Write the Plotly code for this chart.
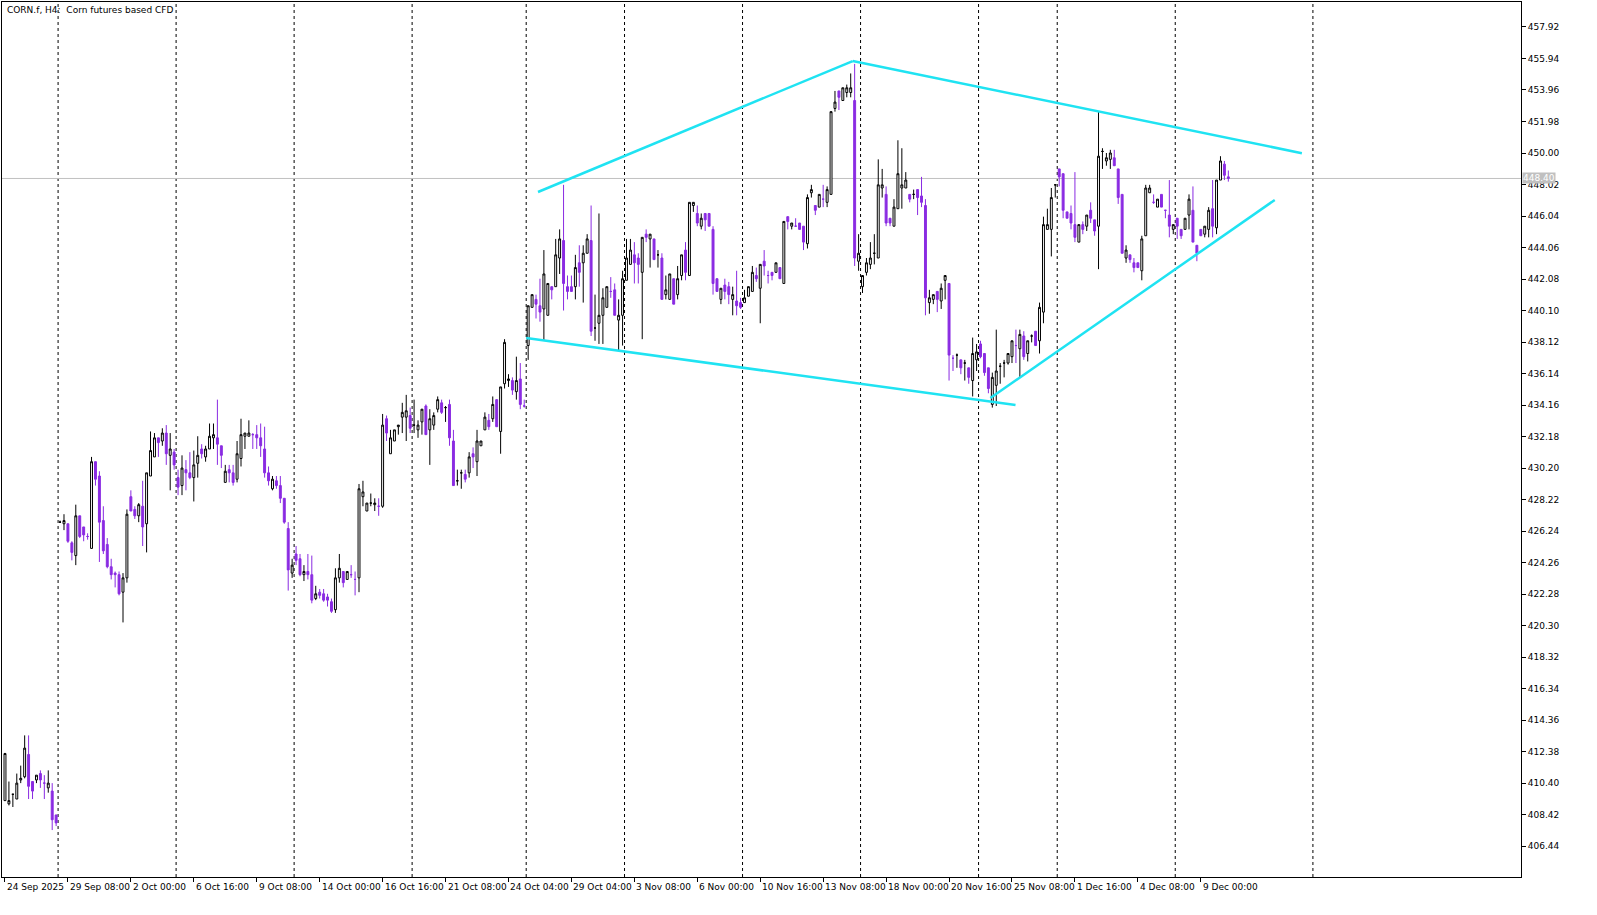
import plotly.graph_objects as go

# H4 candles, CORN.f, 24 Sep - 10 Dec 2025
opens = [
    409.3, 409.1, 409.7, 409.4, 410.6, 410.8, 412.2, 410.5, 410.6, 411.0, 410.4, 410.1, 409.9, 408.4,
    426.8, 426.7, 426.7, 425.5, 424.7, 427.2, 426.5, 425.9, 425.15, 430.6, 429.7, 426.9, 425.4, 424.0,
    423.6, 423.5, 422.4, 423.3, 428.4, 427.6, 427.2, 427.8, 426.7, 429.7, 430.9, 432.1, 431.9, 432.4,
    431.0, 431.2, 429.6, 429.1, 430.1, 429.9, 429.6, 430.5, 431.4, 430.9, 431.4, 432.1, 432.1, 431.6,
    429.3, 430.1, 429.9, 429.5, 430.8, 432.2, 432.2, 432.3, 432.3, 432.1, 431.4, 429.9, 428.9, 429.4,
    429.1, 428.3, 426.4, 423.6, 424.8, 424.5, 423.5, 423.7, 423.5, 422.0, 422.4, 422.3, 422.1, 421.8,
    421.3, 423.3, 423.7, 423.2, 423.5, 423.2, 423.3, 428.4, 427.5, 428.0, 427.9, 427.8, 427.8, 433.3,
    431.1, 431.9, 432.8, 433.4, 433.4, 433.5, 432.9, 432.6, 433.1, 434.1, 432.6, 432.9, 433.9, 434.3,
    434.0, 434.2, 431.9, 429.4, 429.9, 429.8, 429.9, 431.1, 430.6, 431.6, 432.6, 433.2, 433.3, 434.5,
    432.5, 435.5, 435.7, 435.7, 435.0, 435.8, 434.1, 437.9, 440.3, 440.8, 440.4, 440.2, 439.8, 441.6,
    441.6, 443.4, 444.5, 441.6, 441.6, 441.6, 443.1, 443.1, 443.7, 444.5, 439.0, 439.3, 439.8, 440.3,
    441.3, 441.4, 439.5, 439.8, 442.0, 443.0, 443.6, 443.4, 442.5, 444.9, 444.6, 444.6, 443.6, 443.4,
    441.1, 440.8, 442.1, 441.1, 442.3, 443.9, 442.3, 446.7, 446.2, 445.4, 446.2, 446.2, 445.2, 442.1,
    440.8, 441.7, 441.6, 440.8, 440.7, 440.6, 440.6, 441.0, 441.3, 442.3, 441.5, 443.2, 442.3, 442.5,
    442.5, 442.8, 441.8, 446.0, 445.4, 445.4, 445.6, 445.4, 444.3, 447.5, 446.7, 446.6, 447.1, 446.9,
    447.4, 452.8, 453.9, 453.3, 453.8, 453.8, 453.3, 443.2, 441.6, 442.5, 443.0, 443.7, 443.4, 447.8,
    447.4, 445.9, 445.4, 446.5, 447.8, 447.8, 447.4, 447.4, 447.7, 447.3, 446.7, 440.6, 440.8, 441.3,
    440.7, 442.0, 441.8, 437.1, 437.3, 437.0, 436.8, 436.5, 435.7, 437.0, 438.0, 437.4, 436.5, 434.2,
    435.4, 436.6, 436.8, 436.8, 437.2, 437.9, 437.7, 438.5, 437.4, 438.5, 438.8, 438.2, 440.0, 445.2,
    445.2, 448.0, 449.0, 448.7, 446.3, 446.2, 445.5, 444.4, 445.5, 445.4, 446.4, 445.8, 445.4, 450.1,
    449.5, 449.6, 449.7, 449.0, 447.4, 443.4, 443.6, 443.1, 443.1, 442.6, 444.8, 447.5, 446.9, 446.6,
    447.4, 446.4, 446.1, 445.2, 445.9, 445.2, 445.2, 446.1, 446.4, 444.2, 445.2, 444.9, 445.2, 446.5,
    445.3, 448.3, 449.3, 448.5,
]
highs = [
    412.3, 410.5, 409.7, 411.0, 411.5, 413.4, 413.4, 410.5, 410.9, 411.2, 410.9, 411.2, 410.4, 408.4,
    426.9, 427.3, 426.7, 425.6, 427.9, 427.2, 426.5, 426.1, 430.9, 430.6, 430.0, 427.8, 425.8, 424.5,
    423.7, 423.7, 423.6, 427.6, 428.8, 427.8, 428.0, 429.4, 429.9, 432.5, 432.4, 432.1, 432.7, 432.9,
    432.4, 431.4, 430.1, 431.0, 430.7, 431.2, 431.3, 432.2, 431.7, 431.6, 433.0, 433.0, 434.5, 431.6,
    430.4, 430.4, 430.4, 431.9, 433.3, 432.4, 433.2, 432.4, 432.9, 433.0, 432.8, 430.3, 429.7, 429.7,
    429.7, 428.3, 426.8, 424.5, 425.3, 424.8, 424.1, 424.8, 424.7, 422.8, 422.6, 422.6, 422.3, 422.0,
    423.9, 424.8, 423.7, 423.7, 424.1, 423.7, 429.2, 429.4, 428.0, 428.6, 428.3, 428.3, 433.6, 433.5,
    432.6, 432.6, 432.9, 434.3, 434.8, 434.0, 434.5, 433.2, 433.9, 434.2, 433.9, 433.7, 434.7, 434.5,
    434.1, 434.5, 432.6, 430.1, 430.1, 430.1, 431.2, 431.5, 432.6, 431.9, 433.7, 433.6, 434.7, 434.5,
    435.3, 438.3, 436.1, 435.9, 437.2, 436.8, 434.5, 440.4, 441.1, 441.1, 442.1, 443.9, 441.8, 441.6,
    444.6, 445.2, 448.0, 442.3, 442.3, 443.6, 444.2, 444.2, 444.9, 446.7, 441.1, 446.2, 441.5, 441.6,
    442.2, 441.8, 440.8, 442.6, 444.6, 444.6, 444.4, 443.7, 444.7, 445.2, 444.9, 444.6, 443.9, 443.7,
    442.3, 442.4, 442.1, 442.9, 443.6, 444.4, 446.9, 446.9, 446.7, 446.2, 446.2, 446.2, 445.4, 442.1,
    441.5, 442.1, 441.9, 441.6, 442.6, 440.9, 441.4, 441.6, 442.9, 442.8, 443.0, 443.9, 442.6, 442.5,
    443.1, 442.8, 445.7, 446.0, 445.6, 445.9, 445.6, 445.4, 447.4, 448.0, 446.7, 447.4, 448.0, 447.9,
    452.6, 453.9, 453.9, 454.1, 454.3, 455.0, 455.6, 444.9, 442.3, 443.4, 444.4, 444.9, 449.6, 449.0,
    447.9, 445.9, 447.1, 450.8, 450.3, 448.8, 447.4, 447.7, 447.7, 448.5, 447.1, 441.4, 441.1, 441.3,
    441.8, 442.3, 441.8, 437.3, 437.4, 437.0, 437.0, 436.5, 438.4, 438.0, 438.2, 437.4, 436.5, 436.2,
    438.9, 436.8, 437.0, 437.4, 438.2, 438.9, 438.9, 438.8, 438.2, 438.6, 438.8, 440.6, 446.0, 446.5,
    447.8, 448.0, 449.0, 448.7, 446.3, 446.7, 448.8, 445.5, 445.7, 446.1, 446.9, 445.8, 452.6, 450.3,
    450.0, 450.2, 450.2, 449.0, 447.4, 444.2, 443.6, 443.4, 443.1, 444.8, 448.0, 448.0, 447.4, 447.1,
    447.4, 446.4, 448.3, 445.5, 445.9, 445.2, 445.9, 447.4, 447.9, 444.2, 445.2, 445.4, 446.6, 448.3,
    448.3, 449.8, 449.5, 448.9,
]
lows = [
    409.3, 409.0, 408.9, 409.4, 410.4, 410.7, 409.4, 409.4, 410.4, 410.1, 409.4, 409.8, 407.45, 407.7,
    426.8, 426.3, 425.5, 424.4, 424.1, 425.8, 425.6, 425.7, 425.15, 429.1, 424.3, 424.8, 423.9, 423.2,
    422.7, 422.2, 420.5, 423.0, 427.5, 427.0, 426.8, 425.3, 424.9, 429.7, 430.9, 430.9, 431.6, 430.4,
    428.8, 430.1, 428.5, 428.5, 428.8, 429.5, 428.1, 429.6, 430.8, 430.6, 431.4, 431.4, 430.4, 430.2,
    429.3, 429.3, 429.1, 429.3, 430.3, 431.4, 432.2, 431.4, 431.4, 430.9, 429.6, 429.1, 428.8, 428.9,
    428.0, 426.7, 422.5, 423.3, 424.1, 423.4, 423.1, 423.2, 421.7, 421.9, 422.0, 421.8, 421.5, 421.1,
    421.1, 423.0, 422.7, 423.2, 423.3, 422.2, 422.4, 427.8, 427.5, 427.8, 427.5, 427.2, 427.7, 431.9,
    431.1, 431.9, 432.3, 432.4, 431.9, 432.4, 432.4, 432.1, 432.3, 432.3, 430.4, 432.6, 433.7, 433.6,
    433.1, 431.6, 429.1, 429.1, 428.9, 429.3, 429.6, 430.2, 429.7, 431.6, 432.6, 432.6, 433.1, 432.8,
    431.1, 435.2, 435.3, 434.8, 434.5, 433.9, 434.0, 437.0, 440.3, 439.6, 439.4, 438.2, 439.8, 440.8,
    441.6, 442.4, 440.1, 440.8, 441.3, 440.8, 441.6, 440.6, 443.7, 438.5, 438.2, 438.0, 438.0, 440.3,
    440.9, 439.8, 437.6, 437.9, 442.0, 443.0, 441.8, 441.8, 438.3, 444.4, 442.8, 443.3, 442.8, 440.8,
    440.8, 440.8, 440.5, 440.8, 442.0, 442.0, 442.3, 446.3, 445.4, 445.2, 445.1, 445.4, 441.1, 441.3,
    440.5, 440.8, 440.5, 439.8, 439.8, 440.2, 440.6, 441.0, 441.3, 441.9, 439.3, 442.3, 441.8, 442.0,
    442.5, 442.1, 441.8, 445.2, 445.2, 445.4, 445.2, 443.9, 444.0, 447.2, 446.1, 446.6, 446.6, 446.6,
    447.4, 452.6, 452.7, 453.3, 453.5, 453.5, 442.9, 442.6, 441.2, 442.3, 442.7, 443.0, 443.4, 447.2,
    445.4, 445.4, 445.4, 446.5, 446.5, 447.8, 446.9, 447.1, 446.1, 446.6, 439.8, 439.9, 440.5, 440.0,
    440.2, 440.8, 435.7, 436.3, 436.5, 436.1, 435.7, 435.5, 434.7, 436.3, 437.1, 436.0, 434.9, 434.0,
    434.1, 435.5, 435.9, 436.7, 436.8, 436.8, 435.9, 437.0, 436.9, 438.1, 437.9, 437.4, 439.3, 445.2,
    443.5, 447.2, 447.9, 445.9, 445.9, 445.2, 444.4, 444.4, 444.9, 445.1, 445.6, 444.8, 442.7, 449.0,
    449.2, 449.0, 449.2, 446.8, 443.7, 443.1, 443.1, 442.5, 442.8, 442.0, 444.8, 447.5, 446.8, 446.6,
    446.6, 445.9, 444.7, 444.9, 444.6, 444.6, 445.2, 445.2, 444.4, 443.2, 444.8, 444.7, 444.7, 444.7,
    444.9, 448.3, 448.3, 448.2,
]
closes = [
    412.26, 409.3, 409.7, 410.4, 410.7, 412.6, 410.2, 409.9, 410.9, 410.6, 410.4, 410.4, 408.1, 407.9,
    426.8, 426.9, 425.6, 424.9, 427.2, 425.9, 426.0, 425.9, 430.6, 429.5, 426.8, 425.0, 424.0, 423.5,
    423.5, 422.3, 423.3, 427.3, 427.5, 427.2, 427.9, 426.5, 429.9, 431.3, 432.1, 431.8, 432.4, 431.1,
    431.4, 430.4, 429.0, 430.2, 429.9, 429.6, 430.4, 431.0, 431.1, 431.4, 432.2, 432.3, 431.7, 431.0,
    430.0, 429.9, 429.3, 431.1, 432.3, 432.4, 432.4, 432.3, 432.1, 431.6, 429.9, 429.4, 429.5, 429.1,
    428.3, 426.8, 423.8, 424.1, 424.4, 423.5, 423.7, 423.5, 421.9, 422.3, 422.2, 421.9, 421.9, 421.2,
    423.3, 423.9, 423.0, 423.7, 423.5, 423.2, 428.9, 428.7, 428.0, 428.0, 428.0, 427.8, 432.9, 432.4,
    432.1, 432.6, 432.9, 433.7, 433.8, 432.7, 432.9, 432.9, 433.9, 432.3, 433.3, 433.5, 434.5, 433.7,
    434.0, 432.1, 429.1, 429.4, 429.9, 429.5, 430.9, 430.9, 431.9, 431.9, 433.4, 432.8, 434.2, 432.8,
    435.3, 438.1, 435.8, 435.1, 435.7, 434.2, 434.1, 440.4, 441.1, 440.5, 440.0, 442.4, 441.8, 441.4,
    443.6, 444.6, 441.8, 441.3, 441.3, 442.8, 442.5, 443.7, 444.6, 438.8, 439.0, 439.8, 440.9, 441.6,
    441.3, 439.8, 439.8, 442.1, 443.4, 443.9, 443.1, 443.0, 444.7, 444.7, 444.9, 443.3, 443.6, 440.8,
    441.4, 442.4, 440.5, 442.1, 443.6, 442.5, 446.9, 446.9, 445.6, 445.9, 445.8, 445.4, 441.8, 441.3,
    441.5, 441.3, 441.1, 441.1, 440.4, 440.3, 440.9, 441.6, 442.5, 442.1, 443.0, 442.9, 442.3, 442.3,
    443.1, 442.1, 445.7, 445.7, 445.6, 445.4, 445.2, 444.4, 447.2, 447.7, 446.4, 447.4, 447.1, 447.7,
    452.6, 453.2, 453.5, 454.1, 454.1, 454.1, 443.4, 443.7, 442.3, 443.1, 443.4, 443.7, 448.0, 448.0,
    445.6, 445.6, 446.6, 448.7, 448.0, 448.3, 447.1, 447.4, 447.2, 446.9, 440.9, 440.9, 441.1, 440.8,
    441.5, 442.3, 437.3, 437.1, 437.3, 436.5, 436.8, 435.9, 437.4, 437.5, 437.2, 436.2, 435.2, 435.9,
    436.3, 436.6, 436.8, 437.4, 438.2, 437.9, 438.6, 437.2, 438.2, 438.5, 437.9, 440.3, 445.5, 445.5,
    447.2, 448.0, 448.5, 446.4, 445.9, 445.6, 444.7, 445.5, 445.2, 446.1, 445.9, 445.1, 449.8, 450.1,
    449.7, 450.0, 449.2, 447.2, 443.7, 443.9, 443.3, 442.8, 442.8, 444.6, 447.8, 447.8, 446.9, 447.1,
    446.6, 446.4, 445.4, 445.5, 445.4, 444.8, 445.9, 447.1, 444.4, 443.7, 444.8, 445.4, 446.4, 445.4,
    448.3, 449.5, 448.6, 448.4,
]
bars = list(range(len(closes)))

# tick labels every 16 bars, grid lines at week starts (bar positions)
time_labels = ["24 Sep 2025", "29 Sep 08:00", "2 Oct 00:00", "6 Oct 16:00", "9 Oct 08:00",
               "14 Oct 00:00", "16 Oct 16:00", "21 Oct 08:00", "24 Oct 04:00", "29 Oct 04:00",
               "3 Nov 08:00", "6 Nov 00:00", "10 Nov 16:00", "13 Nov 08:00", "18 Nov 00:00",
               "20 Nov 16:00", "25 Nov 08:00", "1 Dec 16:00", "4 Dec 08:00", "9 Dec 00:00"]
label_bars = [16 * k for k in range(len(time_labels))]
grid_bars = [13.5, 43.5, 73.5, 103.5, 132.5, 157.5, 187.5, 217.5, 247.5, 267.5, 297.5, 332.5]

price_ticks = [406.44 + 1.98 * k for k in range(27)]
last_price = 448.40

# drawn trend lines (bar, price) pairs
trend_lines = [
    ((135.5, 447.55), (215.5, 455.78)),
    ((215.5, 455.78), (329.7, 449.99)),
    ((132.5, 438.37), (256.9, 434.16)),
    ((250.5, 434.60), (322.8, 447.05)),
]

fig = go.Figure()
fig.add_trace(go.Candlestick(
    x=bars, open=opens, high=highs, low=lows, close=closes,
    increasing=dict(line=dict(color="black", width=1), fillcolor="white"),
    decreasing=dict(line=dict(color="#8a2be2", width=1), fillcolor="#8a2be2"),
    whiskerwidth=0, hoverinfo="skip", showlegend=False,
))

for (x0, y0), (x1, y1) in trend_lines:
    fig.add_trace(go.Scatter(x=[x0, x1], y=[y0, y1], mode="lines",
                             line=dict(color="#1fe3f2", width=2.5),
                             hoverinfo="skip", showlegend=False))

for g in grid_bars:
    fig.add_shape(type="line", xref="x", yref="paper", x0=g, x1=g, y0=0, y1=1,
                  line=dict(color="black", width=1, dash="dot"), layer="below")

fig.add_shape(type="line", xref="paper", yref="y", x0=0, x1=1, y0=last_price, y1=last_price,
              line=dict(color="#c0c0c0", width=1), layer="below")

for b, t in zip(label_bars, time_labels):
    fig.add_annotation(x=b, y=0, xref="x", yref="paper", yshift=-3, text=t,
                       showarrow=False, xanchor="left", yanchor="top",
                       font=dict(size=9, color="black"))

fig.add_annotation(x=1, y=last_price, xref="paper", yref="y", xshift=1, text=f"{last_price:.2f}",
                   showarrow=False, xanchor="left", bgcolor="#c0c0c0",
                   font=dict(size=9, color="white"), borderpad=0)

fig.add_annotation(x=0, y=1, xref="paper", yref="paper", xshift=3, yshift=-1,
                   text="CORN.f, H4:  Corn futures based CFD", showarrow=False,
                   xanchor="left", yanchor="top", font=dict(size=9, color="black"))

fig.update_layout(
    width=1597, height=915,
    margin=dict(l=2, r=76, t=2, b=38, autoexpand=False),
    paper_bgcolor="white", plot_bgcolor="white",
    font=dict(family="DejaVu Sans", size=9, color="black"),
    xaxis=dict(range=[-0.76, 385.4], rangeslider=dict(visible=False), showgrid=False,
               zeroline=False, tickvals=label_bars, ticktext=[""] * len(label_bars),
               ticks="outside", ticklen=4, tickcolor="black",
               showline=True, linecolor="black", mirror=True),
    yaxis=dict(range=[404.50, 459.49], side="right", tickvals=price_ticks,
               ticktext=[f"{v:.2f}" for v in price_ticks], showgrid=False, zeroline=False,
               ticks="outside", ticklen=4, tickcolor="black",
               showline=True, linecolor="black", mirror=True),
)

fig.write_html("out.html", config={"displayModeBar": False},
               post_script="document.body.style.margin='0';document.body.style.overflow='hidden';")
